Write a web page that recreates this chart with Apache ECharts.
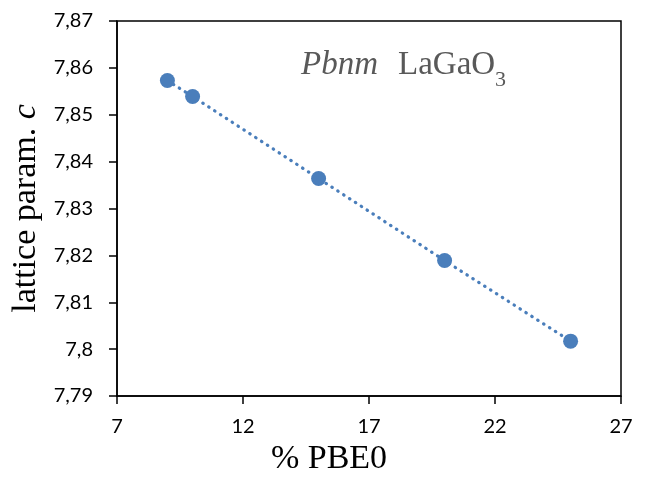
<!DOCTYPE html>
<html><head><meta charset="utf-8">
<script src="https://cdn.jsdelivr.net/npm/echarts@6/dist/echarts.min.js"></script>
<style>html,body{margin:0;padding:0;background:#fff}#c{width:652px;height:478px}</style>
</head><body><div id="c"></div>
<script>
const pbe0 = [9, 10, 15, 20, 25];
const latticeC = [7.8573, 7.8539, 7.8364, 7.8189, 7.8017];
const xTicks = [7, 12, 17, 22, 27];
const yMin = 7.79, yMax = 7.87, yStep = 0.01;
const xTitle = '% PBE0';
const yTitle = 'lattice param. ';
const yTitleItalic = 'c';

const chart = echarts.init(document.getElementById('c'));
const color = '#4a7ebb';
const serif = '"Liberation Serif", "Times New Roman", serif';
const sans = 'Lato, "Open Sans", sans-serif';
chart.setOption({
  animation: false,
  grid: {left: 117, right: 31, top: 21, bottom: 82, show: true, borderColor: '#000', borderWidth: 1.5,
         backgroundColor: 'transparent', containLabel: false, outerBoundsMode: 'none'},
  xAxis: {
    type: 'value', min: xTicks[0], max: xTicks[xTicks.length-1], interval: 5,
    axisLine: {show: true, lineStyle: {color: '#000', width: 1.5}},
    axisTick: {show: true, length: 8, lineStyle: {color: '#000', width: 1.5}},
    splitLine: {show: false},
    axisLabel: {margin: 21, color: '#000', fontSize: 20, fontFamily: sans},
    name: xTitle, nameLocation: 'middle', nameGap: 45,
    nameTextStyle: {fontFamily: serif, fontSize: 34, color: '#000', padding: [0, 80, 0, 0]}
  },
  yAxis: {
    type: 'value', min: yMin, max: yMax, interval: yStep,
    axisLine: {show: true, lineStyle: {color: '#000', width: 1.5}},
    axisTick: {show: true, length: 8, lineStyle: {color: '#000', width: 1.5}},
    splitLine: {show: false},
    axisLabel: {margin: 24, color: '#000', fontSize: 20, fontFamily: sans,
      formatter: v => (Math.round(v*100)/100).toString().replace('.', ',')},
    name: '{n|' + yTitle + '}{i|' + yTitleItalic + '}', nameLocation: 'middle', nameGap: 71,
    nameTextStyle: {rich: {
      n: {fontFamily: serif, fontSize: 34, color: '#000'},
      i: {fontFamily: serif, fontSize: 34, fontStyle: 'italic', color: '#000'}
    }}
  },
  series: [{
    type: 'line',
    data: pbe0.map((x, i) => [x, latticeC[i]]),
    symbol: 'circle', symbolSize: 15,
    itemStyle: {color: color},
    lineStyle: {color: color, width: 3.2, type: [0.5, 6.5], cap: 'round'}
  }],
  graphic: [{
    type: 'text', left: 301, top: 49,
    style: {
      text: '{i|Pbnm}{r|LaGaO}{s|3}',
      rich: {
        i: {fontFamily: serif, fontSize: 33, fontStyle: 'italic', fill: '#595959', verticalAlign: 'bottom'},
        r: {fontFamily: serif, fontSize: 33, fill: '#595959', verticalAlign: 'bottom', padding: [0, 0, 0, 20]},
        s: {fontFamily: serif, fontSize: 22, fill: '#595959', verticalAlign: 'bottom', padding: [0,0,-9,0]}
      }
    }
  }]
});
</script></body></html>
